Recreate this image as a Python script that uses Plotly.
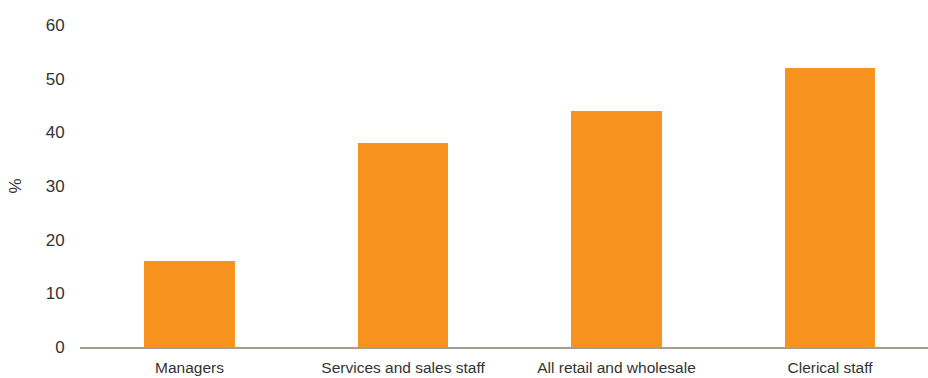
import plotly.graph_objects as go

categories = ["Managers", "Services and sales staff", "All retail and wholesale", "Clerical staff"]
values = [16, 38, 44, 52]
y_ticks = [0, 10, 20, 30, 40, 50, 60]

FONT = "Liberation Sans Narrow, Arial Narrow, Liberation Sans, Arial, sans-serif"

fig = go.Figure(go.Bar(
    x=list(range(len(categories))),
    y=values,
    width=0.426,
    marker=dict(color="#F7931E", line=dict(width=0)),
))

fig.update_layout(
    width=928, height=378,
    margin=dict(l=80, r=0, t=25, b=30.5, autoexpand=False),
    paper_bgcolor="white", plot_bgcolor="white",
    showlegend=False,
    font=dict(family=FONT, size=15.5, color="#333333"),
    bargap=0,
)
fig.update_xaxes(
    range=[-0.513, 3.459],
    tickmode="array", tickvals=list(range(len(categories))), ticktext=categories,
    showline=True, linecolor="#A59C94", linewidth=2,
    showgrid=False, zeroline=False,
    ticks="outside", ticklen=5, tickcolor="rgba(0,0,0,0)",
    automargin=False,
)
fig.update_yaxes(
    range=[0, 60],
    tickmode="array", tickvals=y_ticks,
    tickfont=dict(size=17),
    showgrid=False, zeroline=False, showline=False,
    ticks="outside", ticklen=11, tickcolor="rgba(0,0,0,0)",
    title=dict(text="%", standoff=19, font=dict(size=17)),
    automargin=False,
)

fig.write_html("out.html")
